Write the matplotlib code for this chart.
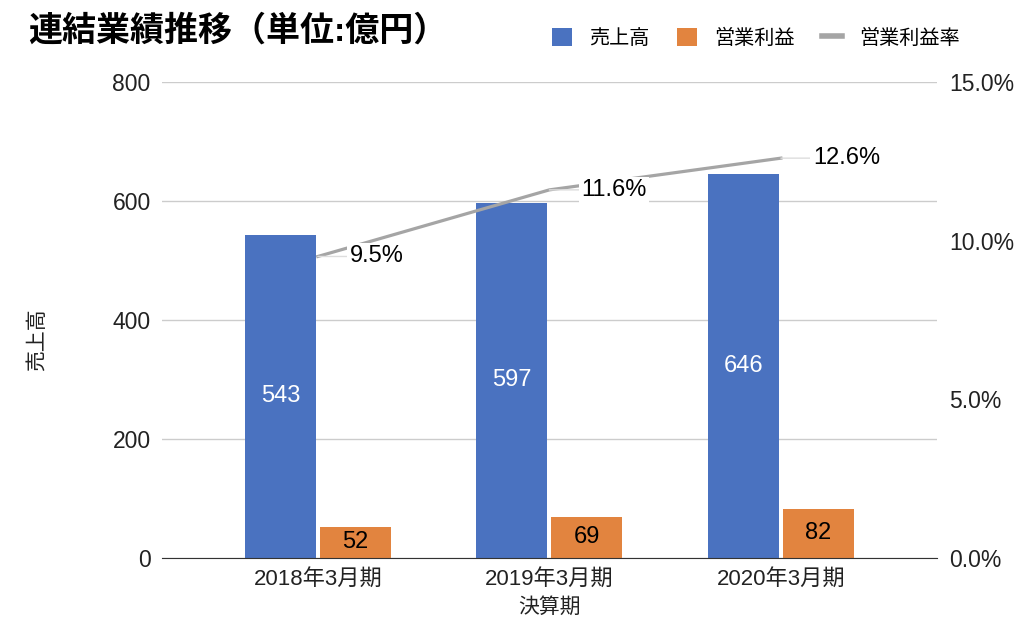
import matplotlib
matplotlib.use("Agg")
from matplotlib import pyplot as plt
from matplotlib.patches import Patch
from matplotlib.lines import Line2D
import numpy as np

plt.rcParams['font.family'] = ['Liberation Sans', 'Noto Sans CJK JP']

# データ
periods = ["2018年3月期", "2019年3月期", "2020年3月期"]
sales = [543, 597, 646]
op_profit = [52, 69, 82]
op_margin = [9.5, 11.6, 12.6]

BLUE = "#4A72C0"
ORANGE = "#E2843F"
GRAY = "#A5A5A5"

fig = plt.figure(figsize=(10.24, 6.31), dpi=100)
ax = fig.add_axes([0.158, 0.116, 0.757, 0.754])

x = np.arange(len(periods))
w = 0.307
off = 0.162

b1 = ax.bar(x - off, sales, width=w, color=BLUE, zorder=2)
b2 = ax.bar(x + off, op_profit, width=w, color=ORANGE, zorder=2)

for rect, v in zip(b1, sales):
    ax.text(rect.get_x() + rect.get_width() / 2, v / 2, str(v), ha="center", va="center",
            color="white", fontsize=17, zorder=3)
for rect, v in zip(b2, op_profit):
    ax.text(rect.get_x() + rect.get_width() / 2, v / 2, str(v), ha="center", va="center",
            color="black", fontsize=17, zorder=3)

ax.set_xlim(-0.674, 2.674)
ax.set_ylim(0, 800)
ax.set_yticks([0, 200, 400, 600, 800])
ax.set_xticks(x)
ax.set_xticklabels(periods)
ax.tick_params(axis="both", length=0, labelsize=16.5, colors="#222222")
ax.tick_params(axis="y", pad=8)
ax.tick_params(axis="x", labelsize=16, pad=8)
ax.grid(axis="y", color="#CCCCCC", lw=1, zorder=0)
for s in ["top", "right", "left"]:
    ax.spines[s].set_visible(False)
ax.spines["bottom"].set_color("#333333")
ax.spines["bottom"].set_zorder(3)

ax.set_ylabel("売上高", fontsize=15, color="#222222")
ax.yaxis.set_label_coords(-0.148, 0.458)
ax.set_xlabel("決算期", fontsize=15, color="#222222", labelpad=5)

# 営業利益率（右軸）
ax2 = ax.twinx()
ax2.plot(x, op_margin, color=GRAY, lw=2.3, zorder=4)
ax2.set_ylim(0, 15)
ax2.set_yticks([0, 5, 10, 15])
ax2.set_yticklabels([f"{t:.1f}%" for t in [0, 5, 10, 15]])
ax2.tick_params(axis="y", length=0, labelsize=16.5, colors="#222222", pad=9)
for s in ["top", "right", "left", "bottom"]:
    ax2.spines[s].set_visible(False)
for xi, v in zip(x, op_margin):
    ax2.annotate(f"{v}%", xy=(xi, v), xytext=(23, 0), textcoords="offset points",
                 ha="left", va="center", fontsize=17, color="black", zorder=5,
                 bbox=dict(boxstyle="square,pad=0.1", fc="white", ec="none"),
                 arrowprops=dict(arrowstyle="-", color="#DDDDDD", lw=1, shrinkA=0, shrinkB=0))

fig.text(0.027, 0.951, "連結業績推移（単位:億円）", fontsize=24.5, fontweight="bold",
         ha="left", va="center")

handles = [Patch(facecolor=BLUE, edgecolor="none"),
           Patch(facecolor=ORANGE, edgecolor="none"),
           Line2D([0], [0], color=GRAY, lw=4)]
fig.legend(handles, ["売上高", "営業利益", "営業利益率"], loc="center right",
           bbox_to_anchor=(0.955, 0.94), ncol=3, frameon=False, fontsize=14.5,
           handlelength=1.0, handleheight=1.0, handletextpad=0.85, columnspacing=1.35)

fig.savefig("out.png", dpi=100)
